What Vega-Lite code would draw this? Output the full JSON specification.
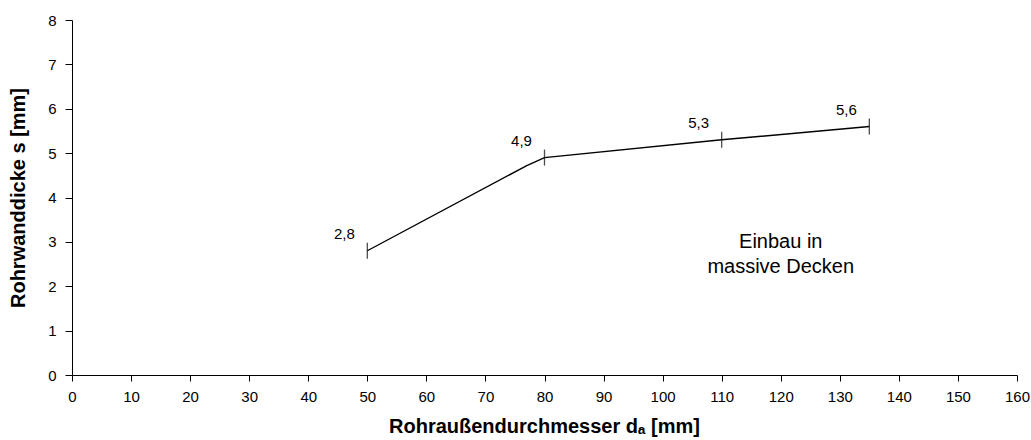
{
  "$schema": "https://vega.github.io/schema/vega-lite/v6.json",
  "width": 945,
  "height": 355,
  "autosize": {"type": "none"},
  "padding": {"left": 72, "top": 20, "right": 14, "bottom": 65},
  "background": "white",
  "config": {
    "view": {"stroke": null},
    "font": "Liberation Sans",
    "axis": {"grid": false, "domainColor": "#000", "tickColor": "#000", "labelColor": "#000", "titleColor": "#000", "labelFont": "Liberation Sans", "titleFont": "Liberation Sans", "labelFontSize": 15, "titleFontSize": 20, "titleFontWeight": "bold"}
  },
  "datasets": {
    "line": [
      {"d": 50, "s": 2.8},
      {"d": 77, "s": 4.72},
      {"d": 80, "s": 4.9},
      {"d": 110, "s": 5.3},
      {"d": 135, "s": 5.6}
    ],
    "pts": [
      {"d": 50, "s": 2.8, "label": "2,8"},
      {"d": 80, "s": 4.9, "label": "4,9"},
      {"d": 110, "s": 5.3, "label": "5,3"},
      {"d": 135, "s": 5.6, "label": "5,6"}
    ],
    "note": [
      {"d": 120, "s": 3.0, "text": ["Einbau in", "massive Decken"]}
    ]
  },
  "layer": [
    {
      "data": {"name": "line"},
      "mark": {"type": "line", "color": "#000", "strokeWidth": 1.4},
      "encoding": {
        "x": {"field": "d", "type": "quantitative", "scale": {"domain": [0, 160], "nice": false},
          "axis": {"values": [0,5,10,15,20,25,30,35,40,45,50,55,60,65,70,75,80,85,90,95,100,105,110,115,120,125,130,135,140,145,150,155,160],
            "labelExpr": "datum.value % 10 === 0 ? datum.label : ''", "tickSize": 6, "labelPadding": 8,
            "title": "Rohraußendurchmesser dₐ [mm]", "titleX": 472, "titleY": 51, "titleBaseline": "middle", "titleAlign": "center", "labelFlush": false, "labelOverlap": false}},
        "y": {"field": "s", "type": "quantitative", "scale": {"domain": [0, 8], "nice": false},
          "axis": {"values": [0,1,2,3,4,5,6,7,8], "tickSize": 7, "labelPadding": 9, "title": "Rohrwanddicke s [mm]",
            "titleX": -54, "titleY": 177.5, "titleBaseline": "middle", "titleAlign": "center", "titleAngle": -90}}
      }
    },
    {
      "data": {"name": "pts"},
      "mark": {"type": "tick", "orient": "vertical", "color": "#000", "size": 16, "thickness": 1.3},
      "encoding": {
        "x": {"field": "d", "type": "quantitative"},
        "y": {"field": "s", "type": "quantitative"}
      }
    },
    {
      "data": {"name": "pts"},
      "mark": {"type": "text", "dx": -23, "dy": -17, "fontSize": 15, "color": "#000", "align": "center", "baseline": "middle"},
      "encoding": {
        "x": {"field": "d", "type": "quantitative"},
        "y": {"field": "s", "type": "quantitative"},
        "text": {"field": "label"}
      }
    },
    {
      "data": {"name": "note"},
      "mark": {"type": "text", "fontSize": 20, "color": "#000", "align": "center", "baseline": "middle", "lineHeight": 25},
      "encoding": {
        "x": {"field": "d", "type": "quantitative"},
        "y": {"field": "s", "type": "quantitative"},
        "text": {"field": "text"}
      }
    }
  ]
}
